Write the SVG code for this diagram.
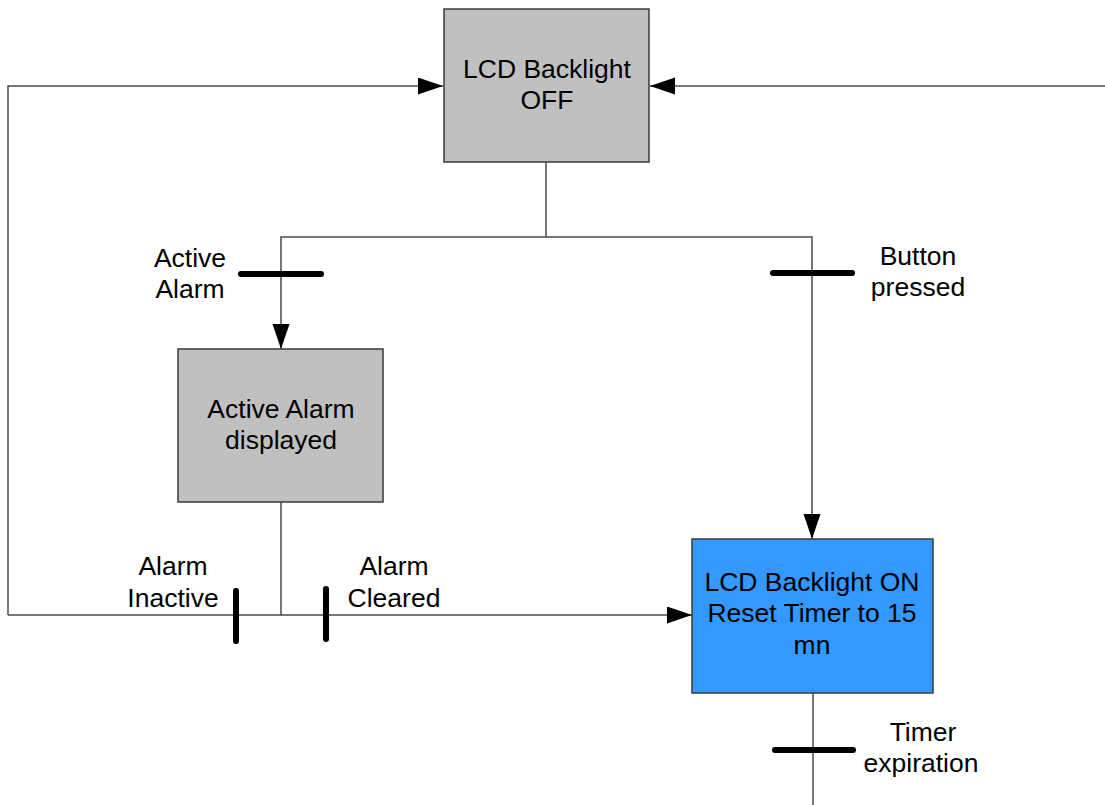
<svg xmlns="http://www.w3.org/2000/svg" width="1105" height="805" viewBox="0 0 1105 805">
<defs>
<marker id="arr" markerUnits="userSpaceOnUse" markerWidth="26" markerHeight="18" refX="25" refY="8.5" orient="auto">
<path d="M0,0 L25,8.5 L0,17 Z" fill="#000"/>
</marker>
<style>
.box{stroke:#3a3a3a;stroke-width:1.5}
.gray{fill:#c0c0c0}
.blue{fill:#3399ff}
.ln{fill:none;stroke:#4a4a4a;stroke-width:1.5}
.bar{stroke:#000;stroke-width:6;stroke-linecap:round}
text{font-family:"Liberation Sans",Arial,sans-serif;font-size:26.5px;fill:#000;text-anchor:middle}
</style>
</defs>
<rect width="1105" height="805" fill="#fff"/>
<g id="connectors">
<path class="ln" d="M8,615 L8,86 L443,86" marker-end="url(#arr)"/>
<path class="ln" d="M1105,86 L650,86" marker-end="url(#arr)"/>
<path class="ln" d="M546,162 L546,237 L281,237 L281,349" marker-end="url(#arr)"/>
<path class="ln" d="M546,237 L812,237 L812,539" marker-end="url(#arr)"/>
<path class="ln" d="M281,502 L281,615"/>
<path class="ln" d="M8,615 L692,615" marker-end="url(#arr)"/>
<path class="ln" d="M813,693 L813,805"/>
<line class="bar" x1="241" y1="274" x2="321" y2="274"/>
<line class="bar" x1="773" y1="273" x2="852" y2="273"/>
<line class="bar" x1="236" y1="591" x2="236" y2="641"/>
<line class="bar" x1="326" y1="589" x2="326" y2="639"/>
<line class="bar" x1="775" y1="750" x2="853" y2="750"/>
</g>
<g id="node-off">
<rect class="box gray" x="444" y="9" width="205" height="153"/>
<text x="547" y="78">LCD Backlight</text>
<text x="547" y="109">OFF</text>
</g>
<g id="node-alarm">
<rect class="box gray" x="178" y="349" width="205" height="153"/>
<text x="281" y="418">Active Alarm</text>
<text x="281" y="449">displayed</text>
</g>
<g id="node-on">
<rect class="box blue" x="692" y="539" width="241" height="154"/>
<text x="812" y="591">LCD Backlight ON</text>
<text x="812" y="622">Reset Timer to 15</text>
<text x="812" y="654">mn</text>
</g>
<g id="labels">
<text x="190" y="267">Active</text>
<text x="190" y="298">Alarm</text>
<text x="918" y="265">Button</text>
<text x="918" y="296">pressed</text>
<text x="173" y="575">Alarm</text>
<text x="173" y="607">Inactive</text>
<text x="394" y="575">Alarm</text>
<text x="394" y="607">Cleared</text>
<text x="923" y="741">Timer</text>
<text x="921" y="772">expiration</text>
</g>
</svg>
